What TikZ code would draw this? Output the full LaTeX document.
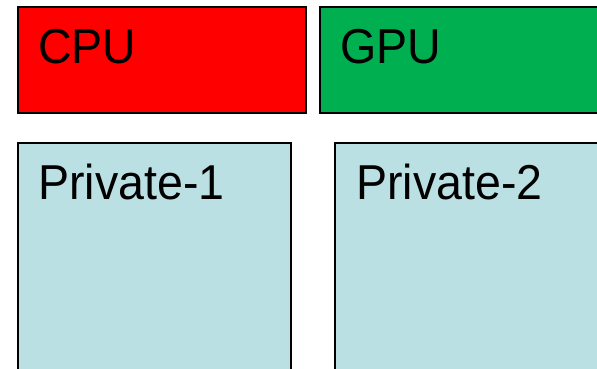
\documentclass[tikz,border=0pt]{standalone}
\usepackage{fontspec}
\setmainfont[FakeStretch=0.95]{Liberation Sans}
\definecolor{cpured}{HTML}{FF0000}
\definecolor{gpugreen}{HTML}{00B050}
\definecolor{privblue}{HTML}{BBE0E3}
\begin{document}
\begin{tikzpicture}[x=1pt,y=-1pt,
  unit/.style={draw=black, line width=2pt, rectangle, anchor=north west, inner sep=0pt},
  unit name/.style={anchor=base west, inner sep=0pt, font=\fontsize{49}{49}\selectfont}]
\useasboundingbox (0,0) rectangle (597,368);
\clip (0,0) rectangle (597,368);

% processors
\node[unit, fill=cpured, minimum width=288pt, minimum height=106pt] (cpu) at (17,6) {};
\node[unit name] (cpu name) at ([xshift=21pt,yshift=-57pt]cpu.north west) {CPU};
\node[unit, fill=gpugreen, minimum width=300pt, minimum height=106pt] (gpu) at (319,6) {};
\node[unit name] (gpu name) at ([xshift=21pt,yshift=-57pt]gpu.north west) {GPU};

% private memories
\node[unit, fill=privblue, minimum width=273pt, minimum height=260pt] (priv1) at (17,142) {};
\node[unit name] (priv1 name) at ([xshift=21pt,yshift=-57pt]priv1.north west) {Private-1};
\node[unit, fill=privblue, minimum width=290pt, minimum height=260pt] (priv2) at (334,142) {};
\node[unit name] (priv2 name) at ([xshift=22pt,yshift=-57pt]priv2.north west) {Private-2};
\end{tikzpicture}
\end{document}
